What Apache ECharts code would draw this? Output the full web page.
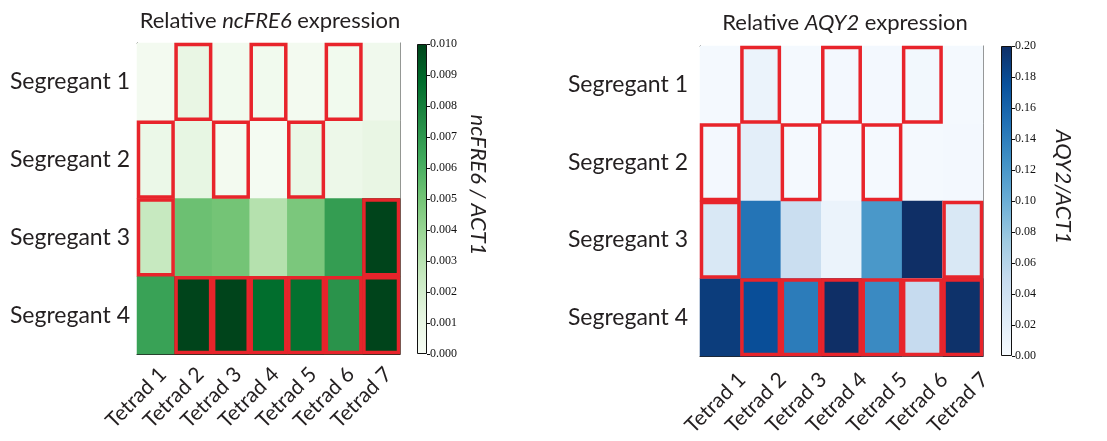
<!DOCTYPE html>
<html>
<head>
<meta charset="utf-8">
<script src="https://cdn.jsdelivr.net/npm/echarts@6/dist/echarts.min.js"></script>
<style>
  html, body { margin: 0; padding: 0; background: #fff; }
  #chart { width: 1107px; height: 441px; }
</style>
</head>
<body>
<div id="chart"></div>
<script>
// Categories
const tetrads = ['Tetrad 1', 'Tetrad 2', 'Tetrad 3', 'Tetrad 4', 'Tetrad 5', 'Tetrad 6', 'Tetrad 7'];
const segregants = ['Segregant 1', 'Segregant 2', 'Segregant 3', 'Segregant 4'];

// ncFRE6 / ACT1, one row per segregant, one column per tetrad
const fre6Seg1 = [0.0003, 0.0010, 0.0004, 0.0004, 0.0003, 0.0004, 0.0005];
const fre6Seg2 = [0.0008, 0.0011, 0.0003, 0.0002, 0.0009, 0.0007, 0.0010];
const fre6Seg3 = [0.0025, 0.0052, 0.0050, 0.0031, 0.0048, 0.0068, 0.0100];
const fre6Seg4 = [0.0066, 0.0100, 0.0100, 0.0087, 0.0086, 0.0072, 0.0100];

// AQY2 / ACT1
const aqy2Seg1 = [0.003, 0.012, 0.003, 0.004, 0.004, 0.005, 0.003];
const aqy2Seg2 = [0.004, 0.020, 0.003, 0.003, 0.003, 0.003, 0.004];
const aqy2Seg3 = [0.030, 0.148, 0.046, 0.012, 0.120, 0.200, 0.030];
const aqy2Seg4 = [0.190, 0.177, 0.142, 0.200, 0.131, 0.050, 0.198];

// Boxed cells: [tetrad index, segregant index]
const boxedCells = [
  [1, 0], [3, 0], [5, 0],
  [0, 1], [2, 1], [4, 1],
  [0, 2], [6, 2],
  [1, 3], [2, 3], [3, 3], [4, 3], [5, 3], [6, 3]
];

// Colour-scale ranges and tick steps
const fre6Range = [0, 0.010];
const fre6Step = 0.001;
const aqy2Range = [0, 0.20];
const aqy2Step = 0.02;

// Sequential colour ramps
const greens = ['#f7fcf5', '#e5f5e0', '#c7e9c0', '#a1d99b', '#74c476', '#41ab5d', '#238b45', '#006d2c', '#00441b'];
const blues = ['#f7fbff', '#deebf7', '#c6dbef', '#9ecae1', '#6baed6', '#4292c6', '#2171b5', '#08519c', '#0f2f66'];

function toCells(rows) {
  const out = [];
  rows.forEach((row, y) => row.forEach((v, x) => out.push([x, y, v])));
  return out;
}
function ramp(colors) {
  return new echarts.graphic.LinearGradient(0, 1, 0, 0,
    colors.map((c, i) => ({ offset: i / (colors.length - 1), color: c })));
}

const FONT = 'Lato';
const INK = '#231f20';
const RED = '#e8242b';

function heatAxes(gridIndex, xShift, xMargin, yMargin) {
  const tick = { show: true, inside: true, length: 4, alignWithLabel: true, lineStyle: { color: '#222' } };
  return {
    x: [
      { type: 'category', gridIndex, data: tetrads, position: 'bottom',
        axisLine: { lineStyle: { color: '#222', width: 1 } }, axisTick: tick,
        axisLabel: { interval: 0, rotate: 45, fontFamily: FONT, fontSize: 21, color: INK,
          margin: xMargin, padding: [0, -xShift, 0, 0] } },
      { type: 'category', gridIndex, data: tetrads, position: 'top',
        axisLine: { lineStyle: { color: '#777', width: 1 } }, axisTick: tick,
        axisLabel: { show: false } }
    ],
    y: [
      { type: 'category', gridIndex, data: segregants, inverse: true, position: 'left',
        axisLine: { lineStyle: { color: '#222', width: 1 } }, axisTick: tick,
        axisLabel: { fontFamily: FONT, fontSize: 23, color: INK, margin: yMargin } },
      { type: 'category', gridIndex, data: segregants, inverse: true, position: 'right',
        axisLine: { lineStyle: { color: '#777', width: 1 } }, axisTick: tick,
        axisLabel: { show: false } }
    ]
  };
}

function barAxes(gridIndex, range, step, digits, title, gap) {
  return {
    x: { type: 'category', gridIndex, data: [''], show: false },
    y: { type: 'value', gridIndex, position: 'right', min: range[0], max: range[1], interval: step,
      axisLine: { show: false }, splitLine: { show: false },
      axisTick: { show: true, inside: false, length: 3, lineStyle: { color: '#111' } },
      axisLabel: { fontFamily: 'Liberation Sans Narrow', fontSize: 12, color: '#111', margin: 3,
        formatter: v => v.toFixed(digits) },
      name: title, nameLocation: 'middle', nameRotate: -90, nameGap: gap,
      nameTextStyle: { fontFamily: FONT, fontStyle: 'italic', fontSize: 22, color: INK, padding: [0, 28, 0, 0] } }
  };
}

const a1 = heatAxes(0, 10, 24, 7), a2 = heatAxes(1, 31, 42, 12);
const b1 = barAxes(2, fre6Range, fre6Step, 3, 'ncFRE6 / ACT1', 40);
const b2 = barAxes(3, aqy2Range, aqy2Step, 2, 'AQY2/ACT1', 40);

function boxes(xi, yi) {
  return {
    type: 'custom', xAxisIndex: xi, yAxisIndex: yi, data: boxedCells, z: 5,
    renderItem(params, api) {
      const c = api.coord([api.value(0), api.value(1)]);
      const s = api.size([1, 1]);
      return { type: 'rect',
        shape: { x: c[0] - s[0] / 2 + 1.5, y: c[1] - s[1] / 2 + 1.5, width: s[0] - 3, height: s[1] - 3 },
        style: { fill: 'none', stroke: RED, lineWidth: 3.5 } };
    }
  };
}

const chart = echarts.init(document.getElementById('chart'), null, { renderer: 'canvas' });
chart.setOption({
  backgroundColor: '#fff',
  animation: false,
  graphic: [
    { type: 'text', x: 270, y: 21, style: { text: 'Relative {i|ncFRE6} expression',
      textAlign: 'center', textVerticalAlign: 'middle', fill: INK,
      font: '22px ' + FONT, rich: { i: { fontStyle: 'italic', fontFamily: FONT, fontSize: 22, color: INK } } } },
    { type: 'text', x: 845, y: 23, style: { text: 'Relative {i|AQY2} expression',
      textAlign: 'center', textVerticalAlign: 'middle', fill: INK,
      font: '22px ' + FONT, rich: { i: { fontStyle: 'italic', fontFamily: FONT, fontSize: 22, color: INK } } } }
  ],
  grid: [
    { left: 137, top: 43, width: 263, height: 311 },
    { left: 700, top: 46, width: 283, height: 310 },
    { left: 417, top: 44, width: 10, height: 310 },
    { left: 1001, top: 46, width: 11, height: 310 }
  ],
  xAxis: [a1.x[0], a1.x[1], a2.x[0], a2.x[1], b1.x, b2.x],
  yAxis: [a1.y[0], a1.y[1], a2.y[0], a2.y[1], b1.y, b2.y],
  visualMap: [
    { type: 'continuous', show: false, seriesIndex: 0, min: fre6Range[0], max: fre6Range[1], inRange: { color: greens } },
    { type: 'continuous', show: false, seriesIndex: 3, min: aqy2Range[0], max: aqy2Range[1], inRange: { color: blues } }
  ],
  series: [
    { type: 'heatmap', xAxisIndex: 0, yAxisIndex: 0,
      data: toCells([fre6Seg1, fre6Seg2, fre6Seg3, fre6Seg4]) },
    boxes(0, 0),
    { type: 'bar', xAxisIndex: 4, yAxisIndex: 4, barWidth: '100%', data: [fre6Range[1]],
      itemStyle: { color: ramp(greens), borderColor: '#111', borderWidth: 1 } },
    { type: 'heatmap', xAxisIndex: 2, yAxisIndex: 2,
      data: toCells([aqy2Seg1, aqy2Seg2, aqy2Seg3, aqy2Seg4]) },
    boxes(2, 2),
    { type: 'bar', xAxisIndex: 5, yAxisIndex: 5, barWidth: '100%', data: [aqy2Range[1]],
      itemStyle: { color: ramp(blues), borderColor: '#111', borderWidth: 1 } }
  ]
});
</script>
</body>
</html>
